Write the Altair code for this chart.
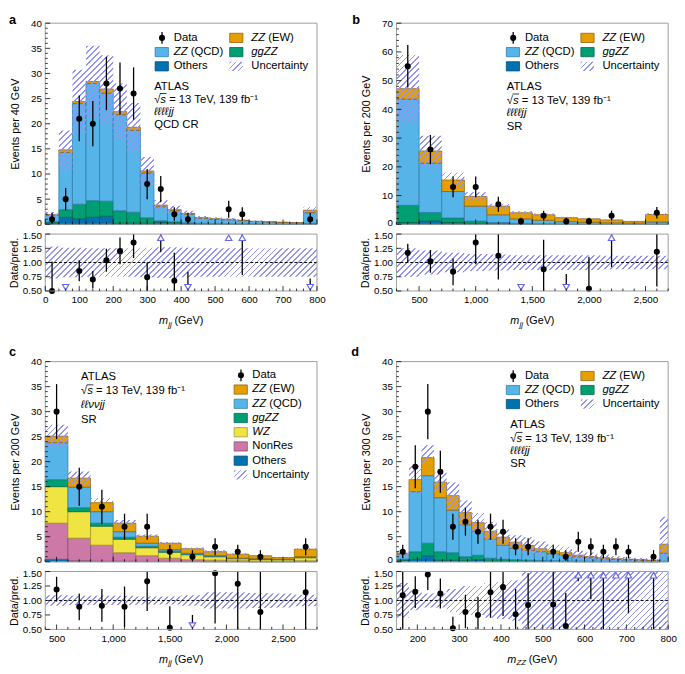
import math
import pandas as pd
import altair as alt

FONT = "Liberation Sans"

# ---------------- Panel a : llll jj, QCD CR ----------------
a_edges = [0, 40, 80, 120, 160, 200, 240, 280, 320, 360, 400, 440, 480, 520, 560, 600, 640, 680, 720, 760, 800]
a_others = [0.3, 1.4, 1.1, 1.4, 1.6, 0.2, 0.2, 0.2, 0.4, 0.3, 0.1, 0.1, 0.05, 0.05, 0.05, 0.05, 0.03, 0.03, 0.02, 0.1]
a_ggzz = [0.2, 1.5, 2.9, 3.3, 3.0, 2.5, 2.2, 1.1, 0.3, 0.2, 0.2, 0.1, 0.1, 0.05, 0.05, 0.05, 0.03, 0.03, 0.02, 0.1]
a_qcd = [1.3, 11.4, 20.0, 23.3, 21.5, 19.1, 16.3, 8.9, 2.8, 2.2, 1.7, 1.0, 0.85, 0.8, 0.6, 0.45, 0.4, 0.3, 0.22, 2.1]
a_ew = [0.1, 0.5, 0.4, 0.4, 0.8, 0.6, 0.6, 0.4, 0.3, 0.2, 0.15, 0.1, 0.1, 0.1, 0.1, 0.05, 0.04, 0.04, 0.04, 0.5]
a_unc = [0.28, 0.26, 0.26, 0.25, 0.25, 0.25, 0.25, 0.26, 0.27, 0.27, 0.26, 0.25, 0.25, 0.25, 0.25, 0.25, 0.25, 0.25, 0.25, 0.25]
a_data_x = [20, 60, 100, 140, 180, 220, 260, 300, 340, 380, 420, 540, 580, 780]
a_data_v = [1, 5, 21, 20, 28, 27, 26, 8, 7, 2, 1, 3, 2, 1]
a_data_lo = [0.2, 2.8, 16.5, 15.5, 22.7, 21.8, 20.8, 5.0, 4.4, 0.7, 0.2, 1.3, 0.7, 0.2]
a_data_hi = [2.3, 7.2, 25.6, 24.5, 33.3, 32.2, 31.2, 11.0, 9.6, 3.4, 2.3, 4.7, 3.4, 2.3]
a_ratio_v = [0.50, None, 0.85, 0.70, 1.04, 1.20, 1.35, 0.74, None, 0.68, None, None, None, None]
a_ratio_lo = [0.50, None, 0.67, 0.55, 0.84, 0.97, 1.08, 0.45, 1.18, 0.45, 0.55, None, 0.78, 0.55]
a_ratio_hi = [1.02, None, 1.04, 0.85, 1.24, 1.44, 1.60, 1.00, 1.50, 1.17, 0.84, None, 1.60, 0.72]
a_arrow = ["", "down", "", "", "", "", "", "", "up", "", "down", "up", "up", "down"]

# ---------------- Panel b : llll jj, SR (mjj) ----------------
b_edges = [300, 500, 700, 900, 1100, 1300, 1500, 1700, 1900, 2100, 2300, 2500, 2700]
b_others = [0.6, 1.2, 0.6, 0.3, 0.2, 0.1, 0.1, 0.05, 0.05, 0.03, 0.02, 0.05]
b_ggzz = [6.0, 2.9, 1.6, 0.8, 0.4, 0.2, 0.1, 0.05, 0.05, 0.03, 0.02, 0.05]
b_qcd = [37.0, 17.2, 9.2, 5.2, 2.7, 1.6, 1.2, 0.8, 0.6, 0.44, 0.36, 0.7]
b_ew = [3.6, 4.2, 4.0, 3.4, 3.0, 2.1, 1.9, 1.4, 1.2, 1.0, 0.6, 2.6]
b_unc = [0.25, 0.21, 0.17, 0.15, 0.14, 0.13, 0.13, 0.13, 0.13, 0.12, 0.12, 0.12]
b_data_x = [400, 600, 800, 1000, 1200, 1400, 1600, 1800, 2000, 2200, 2600]
b_data_v = [55, 26, 13, 13, 7, 1, 3, 1, 1, 3, 4]
b_data_lo = [47.6, 20.9, 9.4, 9.4, 4.4, 0.2, 1.3, 0.2, 0.2, 1.3, 2.0]
b_data_hi = [62.4, 31.1, 16.6, 16.6, 9.6, 2.3, 4.7, 2.3, 2.3, 4.7, 6.0]
b_ratio_v = [1.17, 1.02, 0.84, 1.35, 1.12, None, 0.88, None, 0.54, None, 1.19]
b_ratio_lo = [1.00, 0.82, 0.60, 0.97, 0.70, None, 0.45, 0.55, 0.45, 0.92, 0.58]
b_ratio_hi = [1.33, 1.22, 1.07, 1.60, 1.60, None, 1.40, 0.80, 1.10, 1.50, 1.60]
b_arrow = ["", "", "", "", "", "down", "", "down", "", "up", ""]

# ---------------- Panel c : llvv jj, SR ----------------
c_edges = [400, 600, 800, 1000, 1200, 1400, 1600, 1800, 2000, 2200, 2400, 2600, 2800]
c_others = [0.5, 0.2, 0.1, 0.1, 0.05, 0.05, 0.03, 0.02, 0.02, 0.01, 0.01, 0.02]
c_nonres = [7.2, 4.5, 3.2, 1.7, 1.15, 0.65, 0.37, 0.28, 0.18, 0.14, 0.09, 0.18]
c_wz = [7.3, 5.3, 3.8, 2.7, 1.6, 1.2, 1.0, 0.7, 0.4, 0.35, 0.3, 0.6]
c_ggzz = [1.4, 0.8, 0.6, 0.4, 0.3, 0.2, 0.1, 0.1, 0.05, 0.05, 0.05, 0.1]
c_qcd = [7.4, 4.1, 2.3, 1.1, 0.6, 0.3, 0.2, 0.1, 0.05, 0.05, 0.05, 0.1]
c_ew = [1.3, 1.8, 1.8, 1.7, 1.4, 1.3, 0.9, 0.8, 0.8, 0.6, 0.35, 1.5]
c_unc = [0.09, 0.08, 0.08, 0.08, 0.07, 0.07, 0.09, 0.14, 0.14, 0.13, 0.12, 0.10]
c_data_x = [500, 700, 900, 1100, 1300, 1500, 1700, 1900, 2100, 2300, 2700]
c_data_v = [30, 15, 11, 7, 7, 2, 1, 3, 2, 1, 3]
c_data_lo = [24.5, 11.2, 7.6, 4.4, 4.4, 0.7, 0.2, 1.3, 0.7, 0.2, 1.3]
c_data_hi = [35.5, 18.8, 14.4, 9.6, 9.6, 3.4, 2.3, 4.7, 3.4, 2.3, 4.7]
c_ratio_v = [1.19, 0.89, 0.91, 0.89, 1.33, 0.53, None, 1.47, 1.29, 0.80, 1.14]
c_ratio_lo = [0.98, 0.66, 0.63, 0.54, 0.82, 0.45, 0.55, 0.60, 0.45, 0.45, 0.45]
c_ratio_hi = [1.41, 1.12, 1.20, 1.24, 1.60, 0.90, 0.75, 1.60, 1.60, 1.60, 1.60]
c_arrow = ["", "", "", "", "", "", "down", "", "", "", ""]

# ---------------- Panel d : llll jj, SR (mZZ) ----------------
d_edges = [150, 180, 210, 240, 270, 300, 330, 360, 390, 420, 450, 480, 510, 540, 570, 600, 630, 660, 690, 720, 750, 780, 800]
d_others = [0.3, 0.5, 1.2, 0.3, 0.3, 0.2, 0.4, 0.1, 0.1, 0.08, 0.06, 0.05, 0.04, 0.03, 0.02, 0.02, 0.02, 0.01, 0.01, 0.01, 0.01, 0.03]
d_ggzz = [0.2, 1.5, 2.5, 1.7, 1.5, 0.8, 0.9, 0.6, 0.4, 0.32, 0.24, 0.2, 0.16, 0.12, 0.1, 0.08, 0.06, 0.05, 0.04, 0.03, 0.02, 0.07]
d_qcd = [1.0, 12.0, 13.5, 10.8, 8.5, 6.4, 4.8, 3.8, 2.8, 2.3, 2.0, 1.75, 1.4, 1.15, 0.88, 0.7, 0.52, 0.39, 0.33, 0.26, 0.19, 1.6]
d_ew = [0.2, 2.4, 3.6, 3.1, 2.9, 2.4, 1.7, 1.6, 1.6, 1.2, 0.95, 0.6, 0.55, 0.5, 0.3, 0.25, 0.2, 0.15, 0.12, 0.1, 0.08, 1.8]
d_unc = [0.30, 0.17, 0.12, 0.12, 0.20, 0.25, 0.25, 0.30, 0.32, 0.35, 0.50, 0.55, 0.60, 0.65, 0.70, 0.75, 0.80, 0.85, 0.90, 0.95, 1.00, 1.57]
d_data_x = [165, 195, 225, 255, 285, 315, 345, 375, 405, 435, 465, 525, 555, 585, 615, 645, 675, 705, 765]
d_data_v = [2, 19, 30, 18, 7, 8, 6, 7, 6, 3, 3, 2, 1, 4, 3, 2, 3, 2, 1]
d_data_lo = [0.7, 14.7, 24.5, 13.8, 4.4, 5.2, 3.6, 4.4, 3.6, 1.3, 1.3, 0.7, 0.2, 2.0, 1.3, 0.7, 1.3, 0.7, 0.2]
d_data_hi = [3.4, 23.3, 35.5, 22.2, 9.6, 10.8, 8.4, 9.6, 8.4, 4.7, 4.7, 3.4, 2.3, 6.0, 4.7, 3.4, 4.7, 3.4, 2.3]
d_ratio_v = [1.09, 1.15, 1.45, 1.12, 0.52, 0.80, 0.75, 1.14, 1.23, 0.76, 0.92, 0.93, 0.56, None, None, None, None, None, None]
d_ratio_lo = [0.45, 0.87, 1.18, 0.86, 0.45, 0.52, 0.45, 0.70, 0.73, 0.45, 0.45, 0.45, 0.45, 1.33, 1.02, 0.45, None, 0.78, 0.45]
d_ratio_hi = [1.60, 1.42, 1.60, 1.38, 0.72, 1.10, 1.06, 1.60, 1.60, 1.20, 1.47, 1.60, 1.13, 1.50, 1.50, 1.50, None, 1.50, 1.50]
d_arrow = [""] * 13 + ["up"] * 6

# ---------------- styles ----------------
PROCS = ["Others", "NonRes", "WZ", "ggZZ", "ZZ (QCD)", "ZZ (EW)"]
COL = {"ZZ (EW)": "#E69F00", "ZZ (QCD)": "#56B4E9", "ggZZ": "#009E73",
       "WZ": "#F0E442", "NonRes": "#CC79A7", "Others": "#0072B2"}
EDGE = {"ZZ (EW)": "#94650a", "ZZ (QCD)": "#2f7fad", "ggZZ": "#00694c",
        "WZ": "#a39a2a", "NonRes": "#8d4f72", "Others": "#004d78"}
HATCH = "#9494f3"
ARROW = "#6767ee"
FRAME = "#9c9c9c"
W = 277
FS = 11.5   # legend / annotation font size
dummy = pd.DataFrame({"k": [0]})

CW = {" ": 0.278, "(": 0.333, ")": 0.333, "E": 0.667, "W": 0.944, "Q": 0.778, "C": 0.722,
      "D": 0.722, "Z": 0.611, "g": 0.556, "s": 0.5, "√": 0.549, "m": 0.833, "j": 0.222,
      "G": 0.778, "e": 0.556, "V": 0.667}


def tw(s, size):
    return sum(CW.get(ch, 0.556) for ch in s) * size


def hatch(wpx, hpx, spacing=4.3, frac=0.3):
    wpx = max(wpx, 1.0)
    hpx = max(hpx, 1.0)
    r = wpx / hpx
    b = (r + 1.0) / (r * r + 1.0)
    a = r * b
    n = max(1, int(round((wpx + hpx) / (math.sqrt(2.0) * spacing))))
    clear = "rgba(148,148,243,0)"
    stops = []
    for k in range(n):
        o0 = round(k / n, 5)
        o1 = round((k + frac) / n, 5)
        stops += [{"color": clear, "offset": o0}, {"color": HATCH, "offset": o0},
                  {"color": HATCH, "offset": o1}, {"color": clear, "offset": o1}]
    stops.append({"color": clear, "offset": 1.0})
    return {"gradient": "linear", "x1": 0, "y1": 0, "x2": round(a, 5), "y2": round(b, 5), "stops": stops}


def txt(x, y, s, size=FS, italic=False, bold=False, align="left", baseline="middle"):
    return alt.Chart(dummy).mark_text(
        text=s, font=FONT, fontSize=size, fontStyle="italic" if italic else "normal",
        fontWeight="bold" if bold else "normal", align=align, baseline=baseline, color="black"
    ).encode(x=alt.value(x), y=alt.value(y))


def rich(x, y, parts, size=FS):
    out = []
    cx = x
    for s, it in parts:
        if s.strip():
            out.append(txt(cx, y, s, size=size, italic=it))
        cx += tw(s, size)
    return out


def rect(x0, y0, x1, y1, fill, stroke=None, sw=0.8, fill_opacity=1.0):
    kw = dict(fill=fill, fillOpacity=fill_opacity)
    if stroke:
        kw.update(stroke=stroke, strokeWidth=sw)
    return alt.Chart(dummy).mark_rect(**kw).encode(
        x=alt.value(x0), x2=alt.value(x1), y=alt.value(y0), y2=alt.value(y1))


def hline(x0, x1, y, sw=1.0, color="black"):
    return alt.Chart(dummy).mark_rule(color=color, strokeWidth=sw).encode(
        x=alt.value(x0), x2=alt.value(x1), y=alt.value(y))


def vline(x, y0, y1, sw=1.3, color="black"):
    return alt.Chart(dummy).mark_rule(color=color, strokeWidth=sw).encode(
        x=alt.value(x), y=alt.value(y0), y2=alt.value(y1))


def dot(x, y):
    return alt.Chart(dummy).mark_circle(color="black", size=38, opacity=1).encode(
        x=alt.value(x), y=alt.value(y))


ENTRY = {
    "Data": [("Data", False)],
    "ZZ (EW)": [("ZZ", True), (" ", False), ("(EW)", False)],
    "ZZ (QCD)": [("ZZ", True), (" ", False), ("(QCD)", False)],
    "ggZZ": [("ggZZ", True)],
    "WZ": [("WZ", True)],
    "NonRes": [("NonRes", False)],
    "Others": [("Others", False)],
    "Uncertainty": [("Uncertainty", False)],
}


def entry(name, bx, tx, y):
    out = []
    if name == "Data":
        out += [vline(bx + 7, y - 6, y + 6), dot(bx + 7, y)]
    elif name == "Uncertainty":
        out.append(alt.Chart(dummy).mark_rect(fill=hatch(13.5, 9.4, spacing=3.6)).encode(
            x=alt.value(bx), x2=alt.value(bx + 13.5), y=alt.value(y - 4.7), y2=alt.value(y + 4.7)))
    else:
        out.append(rect(bx, y - 4.7, bx + 13.5, y + 4.7, COL[name], EDGE[name]))
    out += rich(tx, y, ENTRY[name])
    return out


def legend_two(ys):
    out = []
    out += entry("Data", 112, 131, ys[0]) + entry("ZZ (EW)", 188, 210, ys[0])
    out += entry("ZZ (QCD)", 112, 131, ys[1]) + entry("ggZZ", 188, 210, ys[1])
    out += entry("Others", 112, 131, ys[2]) + entry("Uncertainty", 188, 210, ys[2])
    return out


def legend_one():
    out = []
    names = ["Data", "ZZ (EW)", "ZZ (QCD)", "ggZZ", "WZ", "NonRes", "Others", "Uncertainty"]
    for i, n in enumerate(names):
        out += entry(n, 192.5, 211, 14 + 14.5 * i)
    return out


def atlas(x, ys, chan, region):
    out = [txt(x, ys[0], "ATLAS")]
    w1 = tw("√", FS)
    w2 = tw("s", FS)
    out.append(txt(x, ys[1], "√"))
    out.append(txt(x + w1, ys[1], "s", italic=True))
    out.append(hline(x + w1 - 0.5, x + w1 + w2 + 0.5, ys[1] - 6.8, sw=0.8))
    out.append(txt(x + w1 + w2 + tw(" ", FS), ys[1], "= 13 TeV, 139 fb⁻¹"))
    out.append(txt(x, ys[2], chan, italic=True))
    out.append(txt(x, ys[3], region))
    return out


def xtitle(y, sub):
    wm = tw("m", 11)
    ws = tw(sub, 8)
    total = wm + ws + tw(" ", 11) + tw("(GeV)", 11)
    x0 = W / 2 - total / 2
    return [txt(x0, y, "m", size=11, italic=True),
            txt(x0 + wm + 0.3, y + 3.5, sub, size=8, italic=True),
            txt(x0 + wm + ws + tw(" ", 11), y, "(GeV)", size=11)]


def yticks(vals, ys, yax, length):
    df = pd.DataFrame({"v": vals})
    return alt.Chart(df).mark_rule(color="black", strokeWidth=0.8).encode(
        y=alt.Y("v:Q", scale=ys, axis=yax), x=alt.value(0), x2=alt.value(length))


def xticks(vals, xs, xax, H, length):
    df = pd.DataFrame({"v": vals})
    return alt.Chart(df).mark_rule(color="black", strokeWidth=0.8).encode(
        x=alt.X("v:Q", scale=xs, axis=xax), y=alt.value(H), y2=alt.value(H - length))


def main_chart(edges, comps, unc, dx, dv, dlo, dhi, xdom, ydom, H, ytitle,
               ymajor, yminor, xmajor, xminor, extra):
    nb = len(edges) - 1
    tot = [0.0] * nb
    rows = []
    for name, vals in comps:
        for i in range(nb):
            rows.append({"x0": edges[i], "x1": edges[i + 1], "proc": name,
                         "y0": tot[i], "y1": tot[i] + vals[i]})
            tot[i] += vals[i]
    st = pd.DataFrame(rows)
    xs = alt.Scale(domain=xdom, nice=False, zero=False)
    ys = alt.Scale(domain=ydom, nice=False, zero=False)
    yax = alt.Axis(values=ymajor, title=ytitle, ticks=False, domain=False, grid=False,
                   labelPadding=4, titlePadding=10, labelFlush=False, labelOverlap=False, format="d",
                   labelOffset={"condition": {"test": "datum.value == 0", "value": -2}, "value": 0})
    xax = None
    bars = alt.Chart(st).mark_rect(strokeWidth=0.8).encode(
        x=alt.X("x0:Q", scale=xs, axis=xax), x2="x1",
        y=alt.Y("y0:Q", scale=ys, axis=yax), y2="y1",
        fill=alt.Fill("proc:N", scale=alt.Scale(domain=PROCS, range=[COL[n] for n in PROCS]), legend=None),
        stroke=alt.Stroke("proc:N", scale=alt.Scale(domain=PROCS, range=[EDGE[n] for n in PROCS]), legend=None),
    )
    lo = [t * (1 - u) for t, u in zip(tot, unc)]
    hi = [t * (1 + u) for t, u in zip(tot, unc)]
    band = pd.DataFrame({"x": edges, "lo": lo + [lo[-1]], "hi": hi + [hi[-1]]})
    bw = W * (edges[-1] - edges[0]) / (xdom[1] - xdom[0])
    bh = H * (max(hi) - min(lo)) / (ydom[1] - ydom[0])
    hat = alt.Chart(band).mark_area(interpolate="step-after", fill=hatch(bw, bh), opacity=1,
                                    strokeWidth=0, clip=True).encode(
        x=alt.X("x:Q", scale=xs, axis=xax),
        y=alt.Y("lo:Q", scale=ys, axis=yax), y2="hi")
    d = pd.DataFrame({"x": dx, "v": dv, "lo": dlo, "hi": dhi})
    err = alt.Chart(d).mark_rule(color="black", strokeWidth=1.3).encode(
        x=alt.X("x:Q", scale=xs, axis=xax), y=alt.Y("lo:Q", scale=ys, axis=yax), y2="hi")
    pts = alt.Chart(d).mark_circle(color="black", size=38, opacity=1).encode(
        x=alt.X("x:Q", scale=xs, axis=xax), y=alt.Y("v:Q", scale=ys, axis=yax))
    frame = rect(0, 0, W, H, "white", FRAME, sw=1, fill_opacity=0)
    ticks = [yticks(ymajor, ys, yax, 5), yticks(yminor, ys, yax, 2.5),
             xticks(xmajor, xs, xax, H, 5), xticks(xminor, xs, xax, H, 2.5)]
    return alt.layer(bars, hat, frame, *ticks, err, pts, *extra).properties(width=W, height=H)


def ratio_chart(edges, unc, rx, rv, rlo, rhi, rarrow, xdom, H, xmajor, xminor, xfmt, sub):
    xs = alt.Scale(domain=xdom, nice=False, zero=False)
    ys = alt.Scale(domain=[0.5, 1.5], nice=False, zero=False)
    lo = [1 - u for u in unc]
    hi = [1 + u for u in unc]
    band = pd.DataFrame({"x": edges, "lo": lo + [lo[-1]], "hi": hi + [hi[-1]]})
    bw = W * (edges[-1] - edges[0]) / (xdom[1] - xdom[0])
    bh = H * (max(hi) - min(lo))
    xax = alt.Axis(values=xmajor, format=xfmt, ticks=False, domain=False, grid=False, title=None,
                   labelPadding=4, labelFlush=False, labelOverlap=False)
    yax = alt.Axis(values=[0.5, 0.75, 1.0, 1.25, 1.5], format=".2f", title="Data/pred.", ticks=False,
                   domain=False, grid=False, labelPadding=4, titlePadding=3, labelFlush=False,
                   labelOverlap=False,
                   labelOffset={"condition": {"test": "datum.value == 1.5", "value": 2}, "value": 0})
    hat = alt.Chart(band).mark_area(interpolate="step-after", fill=hatch(bw, bh), opacity=1,
                                    strokeWidth=0, clip=True).encode(
        x=alt.X("x:Q", scale=xs, axis=xax),
        y=alt.Y("lo:Q", scale=ys, axis=yax), y2="hi")
    one = alt.Chart(dummy).mark_rule(color="black", strokeWidth=1, strokeDash=[3, 2]).encode(
        y=alt.YDatum(1.0, scale=ys, axis=yax))
    r = pd.DataFrame({"x": rx, "r": rv, "lo": rlo, "hi": rhi, "arrow": rarrow})
    er = r.dropna(subset=["lo", "hi"])
    err = alt.Chart(er).mark_rule(color="black", strokeWidth=1.3, clip=True).encode(
        x=alt.X("x:Q", scale=xs, axis=xax), y=alt.Y("lo:Q", scale=ys, axis=yax), y2="hi")
    layers = [hat, one, err]
    pr = r.dropna(subset=["r"])
    layers.append(alt.Chart(pr).mark_circle(color="black", size=38, opacity=1).encode(
        x=alt.X("x:Q", scale=xs, axis=xax), y=alt.Y("r:Q", scale=ys, axis=yax)))
    up = r[r["arrow"] == "up"]
    dn = r[r["arrow"] == "down"]
    if len(up):
        layers.append(alt.Chart(up).mark_point(shape="triangle-up", filled=True, fill="white",
                                               stroke=ARROW, strokeWidth=1.2, size=42, opacity=1).encode(
            x=alt.X("x:Q", scale=xs, axis=xax), y=alt.YDatum(1.435, scale=ys, axis=yax)))
    if len(dn):
        layers.append(alt.Chart(dn).mark_point(shape="triangle-down", filled=True, fill="white",
                                               stroke=ARROW, strokeWidth=1.2, size=42, opacity=1).encode(
            x=alt.X("x:Q", scale=xs, axis=xax), y=alt.YDatum(0.565, scale=ys, axis=yax)))
    frame = rect(0, 0, W, H, "white", FRAME, sw=1, fill_opacity=0)
    rmaj = [0.5, 0.75, 1.0, 1.25, 1.5]
    ticks = [yticks(rmaj, ys, yax, 5), xticks(xmajor, xs, xax, H, 5), xticks(xminor, xs, xax, H, 2.5)]
    return alt.layer(*layers, frame, *ticks, *xtitle(H + 31, sub)).properties(width=W, height=H)


# ---------------- assemble panels ----------------
main_a = main_chart(
    a_edges, [("Others", a_others), ("ggZZ", a_ggzz), ("ZZ (QCD)", a_qcd), ("ZZ (EW)", a_ew)], a_unc,
    a_data_x, a_data_v, a_data_lo, a_data_hi, [0, 800], [0, 40], 205, "Events per 40 GeV",
    list(range(0, 41, 5)), [v for v in range(0, 41) if v % 5], list(range(0, 801, 100)),
    [v for v in range(0, 801, 20) if v % 100],
    legend_two([15, 29.5, 44]) + atlas(111, [65, 78.5, 91, 103.5], "ℓℓℓℓjj", "QCD CR")
    + [txt(-37, -9, "a", size=13, bold=True, baseline="top")])
ratio_a = ratio_chart(a_edges, a_unc, a_data_x, a_ratio_v, a_ratio_lo, a_ratio_hi, a_arrow,
                      [0, 800], 58, list(range(0, 801, 100)), [v for v in range(0, 801, 20) if v % 100],
                      "d", "jj")

main_b = main_chart(
    b_edges, [("Others", b_others), ("ggZZ", b_ggzz), ("ZZ (QCD)", b_qcd), ("ZZ (EW)", b_ew)], b_unc,
    b_data_x, b_data_v, b_data_lo, b_data_hi, [300, 2700], [0, 70], 205, "Events per 200 GeV",
    list(range(0, 71, 10)), [v for v in range(0, 71, 2) if v % 10], [500, 1000, 1500, 2000, 2500],
    [v for v in range(300, 2701, 100) if v % 500],
    legend_two([15, 29.5, 44]) + atlas(112.5, [65, 79, 91.5, 106], "ℓℓℓℓjj", "SR")
    + [txt(-45, -9, "b", size=13, bold=True, baseline="top")])
ratio_b = ratio_chart(b_edges, b_unc, b_data_x, b_ratio_v, b_ratio_lo, b_ratio_hi, b_arrow,
                      [300, 2700], 58, [500, 1000, 1500, 2000, 2500],
                      [v for v in range(300, 2701, 100) if v % 500], ",d", "jj")

main_c = main_chart(
    c_edges, [("Others", c_others), ("NonRes", c_nonres), ("WZ", c_wz), ("ggZZ", c_ggzz),
              ("ZZ (QCD)", c_qcd), ("ZZ (EW)", c_ew)], c_unc,
    c_data_x, c_data_v, c_data_lo, c_data_hi, [400, 2800], [0, 40], 204, "Events per 200 GeV",
    list(range(0, 41, 5)), [v for v in range(0, 41) if v % 5], [500, 1000, 1500, 2000, 2500],
    [v for v in range(400, 2801, 100) if v % 500],
    legend_one() + atlas(36.5, [16, 30.5, 44.5, 59.5], "ℓℓννjj", "SR")
    + [txt(-37, -16, "c", size=13, bold=True, baseline="top")])
ratio_c = ratio_chart(c_edges, c_unc, c_data_x, c_ratio_v, c_ratio_lo, c_ratio_hi, c_arrow,
                      [400, 2800], 59, [500, 1000, 1500, 2000, 2500],
                      [v for v in range(400, 2801, 100) if v % 500], ",d", "jj")

main_d = main_chart(
    d_edges, [("Others", d_others), ("ggZZ", d_ggzz), ("ZZ (QCD)", d_qcd), ("ZZ (EW)", d_ew)], d_unc,
    d_data_x, d_data_v, d_data_lo, d_data_hi, [150, 800], [0, 40], 204, "Events per 300 GeV",
    list(range(0, 41, 5)), [v for v in range(0, 41) if v % 5], list(range(200, 801, 100)),
    [v for v in range(160, 801, 20) if v % 100],
    legend_two([14.7, 29, 43.3]) + atlas(116, [65, 79, 91.5, 104.5], "ℓℓℓℓjj", "SR")
    + [txt(-46, -16, "d", size=13, bold=True, baseline="top")])
ratio_d = ratio_chart(d_edges, d_unc, d_data_x, d_ratio_v, d_ratio_lo, d_ratio_hi, d_arrow,
                      [150, 800], 59, list(range(200, 801, 100)),
                      [v for v in range(160, 801, 20) if v % 100], "d", "ZZ")


def spacer():
    return alt.Chart(dummy).mark_text(text=" ").encode(
        x=alt.value(0), y=alt.value(0)).properties(width=W, height=52)


chart = alt.concat(
    main_a, main_b, ratio_a, ratio_b, spacer(), spacer(), main_c, main_d, ratio_c, ratio_d,
    columns=2, spacing={"row": 10, "column": 81}, bounds="flush",
).properties(padding=0).configure_axis(
    labelFont=FONT, titleFont=FONT, labelFontSize=10, titleFontSize=11,
    titleFontWeight="normal", labelColor="black", titleColor="black",
).configure_view(strokeWidth=0)

chart.save("out.html", embed_options={"renderer": "svg", "actions": False})
